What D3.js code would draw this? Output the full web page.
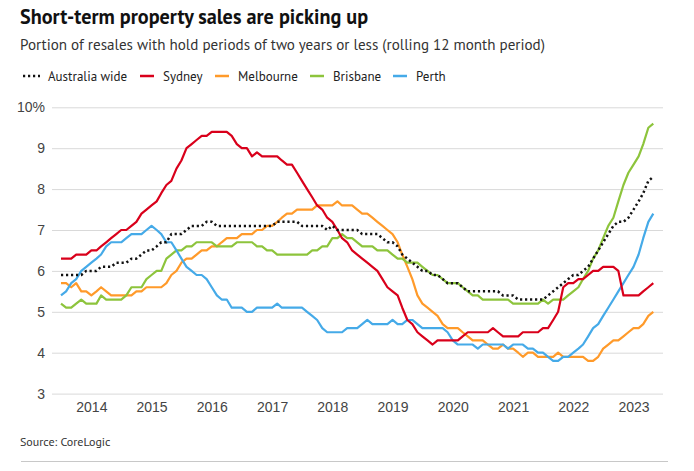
<!DOCTYPE html>
<html><head><meta charset="utf-8">
<script src="https://cdn.jsdelivr.net/npm/d3@7"></script>
<style>
body{margin:0;background:#fff;}
svg{display:block;font-family:"PT Sans","Liberation Sans Narrow","Arial Narrow","Roboto",sans-serif;}
</style>
</head><body>
<svg id="chart" width="694" height="471"></svg>
<script>
// ---- data (monthly, Jul 2013 – May 2023) ----
const firstMonth = "2013-07-01";
const lastMonth = "2023-05-01";
const seriesNames = ["Australia wide", "Sydney", "Melbourne", "Brisbane", "Perth"];
const seriesColors = ["#111111", "#d9001b", "#ff9a2a", "#8dc43c", "#45aae8"];

const australiaWide = [
  5.9,5.9,5.9,5.9,5.9,6.0,6.0,6.0,6.1,6.1,
  6.1,6.2,6.2,6.2,6.3,6.3,6.4,6.5,6.5,6.6,
  6.7,6.7,6.9,6.9,6.9,7.0,7.1,7.1,7.1,7.2,
  7.2,7.1,7.1,7.1,7.1,7.1,7.1,7.1,7.1,7.1,
  7.1,7.1,7.1,7.2,7.2,7.2,7.2,7.2,7.1,7.1,
  7.1,7.1,7.1,7.0,7.1,7.0,7.0,7.0,7.0,7.0,
  6.9,6.9,6.9,6.9,6.8,6.7,6.7,6.6,6.4,6.3,
  6.2,6.1,6.0,6.0,5.9,5.9,5.8,5.7,5.7,5.7,
  5.6,5.5,5.5,5.5,5.5,5.5,5.5,5.5,5.4,5.4,
  5.4,5.3,5.3,5.3,5.3,5.3,5.3,5.4,5.5,5.6,
  5.7,5.8,5.9,5.9,6.0,6.1,6.3,6.5,6.7,6.9,
  7.1,7.2,7.2,7.3,7.5,7.7,7.9,8.2,8.3
];
const sydney = [
  6.3,6.3,6.3,6.4,6.4,6.4,6.5,6.5,6.6,6.7,
  6.8,6.9,7.0,7.0,7.1,7.2,7.4,7.5,7.6,7.7,
  7.9,8.1,8.2,8.5,8.7,9.0,9.1,9.2,9.3,9.3,
  9.4,9.4,9.4,9.4,9.3,9.1,9.0,9.0,8.8,8.9,
  8.8,8.8,8.8,8.8,8.7,8.6,8.6,8.4,8.2,8.0,
  7.8,7.6,7.5,7.3,7.2,7.0,6.8,6.7,6.5,6.4,
  6.3,6.2,6.1,6.0,5.8,5.6,5.5,5.4,5.1,4.8,
  4.7,4.5,4.4,4.3,4.2,4.3,4.3,4.3,4.3,4.3,
  4.4,4.5,4.5,4.5,4.5,4.5,4.6,4.5,4.4,4.4,
  4.4,4.4,4.5,4.5,4.5,4.5,4.6,4.6,4.8,5.0,
  5.6,5.7,5.7,5.8,5.8,5.9,6.0,6.0,6.1,6.1,
  6.1,6.0,5.4,5.4,5.4,5.4,5.5,5.6,5.7
];
const melbourne = [
  5.7,5.7,5.6,5.7,5.5,5.5,5.4,5.5,5.6,5.5,
  5.4,5.4,5.4,5.4,5.4,5.5,5.5,5.6,5.6,5.6,
  5.6,5.7,5.9,6.0,6.2,6.3,6.3,6.4,6.5,6.5,
  6.6,6.6,6.7,6.8,6.8,6.8,6.9,6.9,6.9,7.0,
  7.0,7.1,7.1,7.2,7.3,7.4,7.4,7.5,7.5,7.5,
  7.5,7.6,7.6,7.6,7.6,7.7,7.6,7.6,7.6,7.5,
  7.4,7.4,7.3,7.2,7.1,7.0,6.9,6.7,6.4,6.1,
  5.8,5.4,5.2,5.1,5.0,4.9,4.7,4.6,4.6,4.6,
  4.5,4.4,4.3,4.3,4.3,4.2,4.1,4.1,4.2,4.1,
  4.1,4.0,3.9,4.0,4.0,3.9,3.9,3.9,3.9,4.0,
  3.9,3.9,3.9,3.9,3.9,3.8,3.8,3.9,4.1,4.2,
  4.3,4.3,4.4,4.5,4.6,4.6,4.7,4.9,5.0
];
const brisbane = [
  5.2,5.1,5.1,5.2,5.3,5.2,5.2,5.2,5.4,5.3,
  5.3,5.3,5.3,5.4,5.6,5.6,5.6,5.8,5.9,6.0,
  6.0,6.3,6.4,6.5,6.5,6.6,6.6,6.7,6.7,6.7,
  6.7,6.6,6.6,6.6,6.6,6.7,6.7,6.7,6.7,6.6,
  6.6,6.5,6.5,6.4,6.4,6.4,6.4,6.4,6.4,6.4,
  6.5,6.5,6.6,6.6,6.8,6.8,6.9,6.8,6.8,6.7,
  6.6,6.6,6.6,6.5,6.5,6.5,6.4,6.3,6.3,6.2,
  6.2,6.2,6.1,6.0,5.9,5.9,5.8,5.7,5.7,5.7,
  5.6,5.5,5.4,5.4,5.3,5.3,5.3,5.3,5.3,5.3,
  5.2,5.2,5.2,5.2,5.2,5.2,5.3,5.2,5.3,5.3,
  5.3,5.4,5.5,5.6,5.8,6.0,6.3,6.5,6.8,7.1,
  7.3,7.7,8.1,8.4,8.6,8.8,9.1,9.5,9.6
];
const perth = [
  5.4,5.5,5.7,5.8,6.0,6.1,6.2,6.3,6.4,6.6,
  6.7,6.7,6.7,6.8,6.9,6.9,6.9,7.0,7.1,7.0,
  6.9,6.7,6.7,6.5,6.3,6.1,6.0,5.9,5.9,5.8,
  5.6,5.4,5.3,5.3,5.1,5.1,5.1,5.0,5.0,5.1,
  5.1,5.1,5.1,5.2,5.1,5.1,5.1,5.1,5.1,5.0,
  4.9,4.8,4.6,4.5,4.5,4.5,4.5,4.6,4.6,4.6,
  4.7,4.8,4.7,4.7,4.7,4.7,4.8,4.7,4.7,4.8,
  4.8,4.7,4.6,4.6,4.6,4.6,4.6,4.5,4.3,4.2,
  4.2,4.2,4.2,4.1,4.2,4.2,4.2,4.2,4.2,4.1,
  4.2,4.2,4.2,4.1,4.1,4.0,4.0,3.9,3.8,3.8,
  3.9,3.9,4.0,4.1,4.2,4.4,4.6,4.7,4.9,5.1,
  5.3,5.5,5.7,5.9,6.1,6.4,6.8,7.2,7.4
];
const yTicks = [3, 4, 5, 6, 7, 8, 9, 10];
const xTickYears = [2014, 2015, 2016, 2017, 2018, 2019, 2020, 2021, 2022, 2023];

const titleText = "Short-term property sales are picking up";
const subtitleText = "Portion of resales with hold periods of two years or less (rolling 12 month period)";
const sourceText = "Source: CoreLogic";

// ---- build ----
const months = d3.timeMonth.range(new Date(firstMonth + "T00:00:00"), d3.timeMonth.offset(new Date(lastMonth + "T00:00:00"), 1));
const allValues = [australiaWide, sydney, melbourne, brisbane, perth];
const series = seriesNames.map((name, k) => ({
  name, color: seriesColors[k], dotted: k === 0,
  points: allValues[k].map((v, i) => ({date: months[i], value: v}))
}));

const svg = d3.select("#chart");
const x = d3.scaleTime().domain([months[0], months[months.length - 1]]).range([61, 653.3]);
const y = d3.scaleLinear().domain([3, 10]).range([393.6, 107.3]);
const gridX0 = 52, gridX1 = 663;

// title & subtitle
svg.append("text").attr("x", 20).attr("y", 24).attr("font-size", 20.2).attr("font-weight", 700)
  .attr("fill", "#111").text(titleText);
svg.append("text").attr("x", 20).attr("y", 50).attr("font-size", 15.1).attr("fill", "#333").text(subtitleText);

// legend
const legendItems = [
  {k: 0, sx: 23, tx: 48},
  {k: 1, sx: 140, tx: 163},
  {k: 2, sx: 215, tx: 238},
  {k: 3, sx: 310, tx: 333},
  {k: 4, sx: 393, tx: 416}
];
const lg = svg.append("g");
legendItems.forEach(it => {
  const s = series[it.k];
  lg.append("line").attr("x1", it.sx).attr("x2", s.dotted ? it.sx + 17 : it.sx + 14)
    .attr("y1", 76).attr("y2", 76).attr("stroke", s.color)
    .attr("stroke-width", 2.5)
    .attr("stroke-dasharray", s.dotted ? "2.2,2.8" : null);
  lg.append("text").attr("x", it.tx).attr("y", 80.5).attr("font-size", 13).attr("fill", "#222").text(s.name);
});

// gridlines + y labels
const yAxis = d3.axisLeft(y).tickValues(yTicks).tickSize(-(gridX1 - gridX0)).tickPadding(7)
  .tickFormat(d => d === 10 ? "10%" : d);
svg.append("g").attr("transform", `translate(${gridX0},0)`).call(yAxis)
  .call(g => g.select(".domain").remove())
  .call(g => g.selectAll(".tick line").attr("stroke", "#d9d9d9").attr("stroke-width", 1))
  .call(g => g.selectAll(".tick text").attr("font-size", 14).attr("fill", "#444").attr("font-family", null));

// x axis labels
const xAxis = d3.axisBottom(x).tickValues(xTickYears.map(yr => new Date(yr, 0, 1)))
  .tickSize(0).tickPadding(0).tickFormat(d3.timeFormat("%Y"));
svg.append("g").attr("transform", `translate(0,402)`).call(xAxis)
  .call(g => g.select(".domain").remove())
  .call(g => g.selectAll(".tick text").attr("font-size", 14).attr("fill", "#444").attr("font-family", null).attr("dy", "0.71em"));

// lines
const line = d3.line().x(d => x(d.date)).y(d => y(d.value));
const drawOrder = [2, 3, 4, 1, 0];
drawOrder.forEach(k => {
  const s = series[k];
  svg.append("path").datum(s.points).attr("d", line).attr("fill", "none")
    .attr("stroke", s.color).attr("stroke-width", s.dotted ? 2.5 : 2.2)
    .attr("stroke-linejoin", "round")
    .attr("stroke-dasharray", s.dotted ? "2.2,2.8" : null);
});

// source + rule
svg.append("text").attr("x", 20).attr("y", 446).attr("font-size", 12).attr("fill", "#333").text(sourceText);
svg.append("line").attr("x1", 21).attr("x2", 668).attr("y1", 461.5).attr("y2", 461.5)
  .attr("stroke", "#c8c8c8").attr("stroke-width", 1);
</script>
</body></html>
